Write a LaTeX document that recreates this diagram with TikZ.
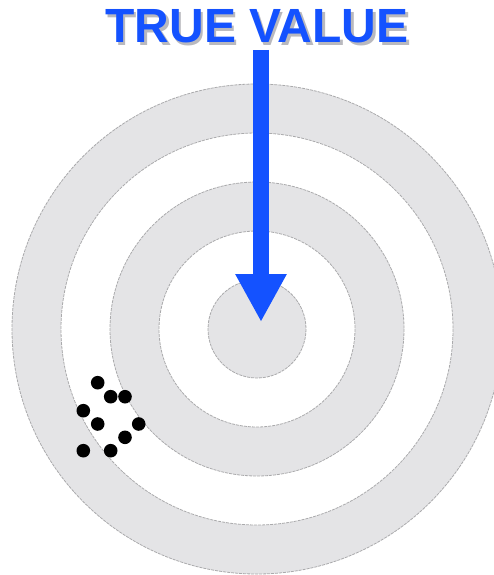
\documentclass[tikz,border=0pt]{standalone}
\usepackage{fontspec}
\setmainfont{Liberation Sans}
\usetikzlibrary{arrows.meta}
\definecolor{ringgray}{RGB}{228,228,230}
\definecolor{ringedge}{RGB}{170,170,172}
\definecolor{tvblue}{RGB}{20,82,255}
\definecolor{shadowgray}{RGB}{185,185,190}
\tikzset{
  ring/.style={draw=ringedge, line width=0.8pt, dash pattern=on 3pt off 1pt},
  hit/.style={fill=black},
  titletext/.style={font=\bfseries\fontsize{48}{48}\selectfont, inner sep=0pt, anchor=base},
}
\begin{document}
\begin{tikzpicture}[x=1pt,y=-1pt]
\useasboundingbox (0,0) rectangle (494,575);
\fill[white] (0,0) rectangle (494,575);
\begin{scope}
\clip (0,0) rectangle (494,575);
\filldraw[ring, fill=ringgray] (257,329) circle[radius=245];
\filldraw[ring, fill=white] (257,329) circle[radius=196];
\filldraw[ring, fill=ringgray] (257,329) circle[radius=147];
\filldraw[ring, fill=white] (257,329) circle[radius=98];
\filldraw[ring, fill=ringgray] (257,329) circle[radius=49];
\end{scope}
% shots
\foreach \px/\py in {97.7/382.7, 110.7/396.7, 125/396.7, 83.3/410.7, 97.7/424, 138.7/424, 125/437.3, 83.3/450.7, 110.7/450.7}
  \fill[hit] (\px,\py) circle[radius=6.8];
% title
\node[titletext, text=shadowgray] (titleshadow) at (259.5,45.5) {TRUE VALUE};
\node[titletext, text=tvblue] (title) at (257,43) {TRUE VALUE};
% arrow
\coordinate (arrowstart) at (261,50);
\coordinate (center) at (261,322);
\draw[tvblue, line width=16pt, -{Triangle[width=48pt,length=48pt]}] (arrowstart) -- (center);
\end{tikzpicture}
\end{document}
